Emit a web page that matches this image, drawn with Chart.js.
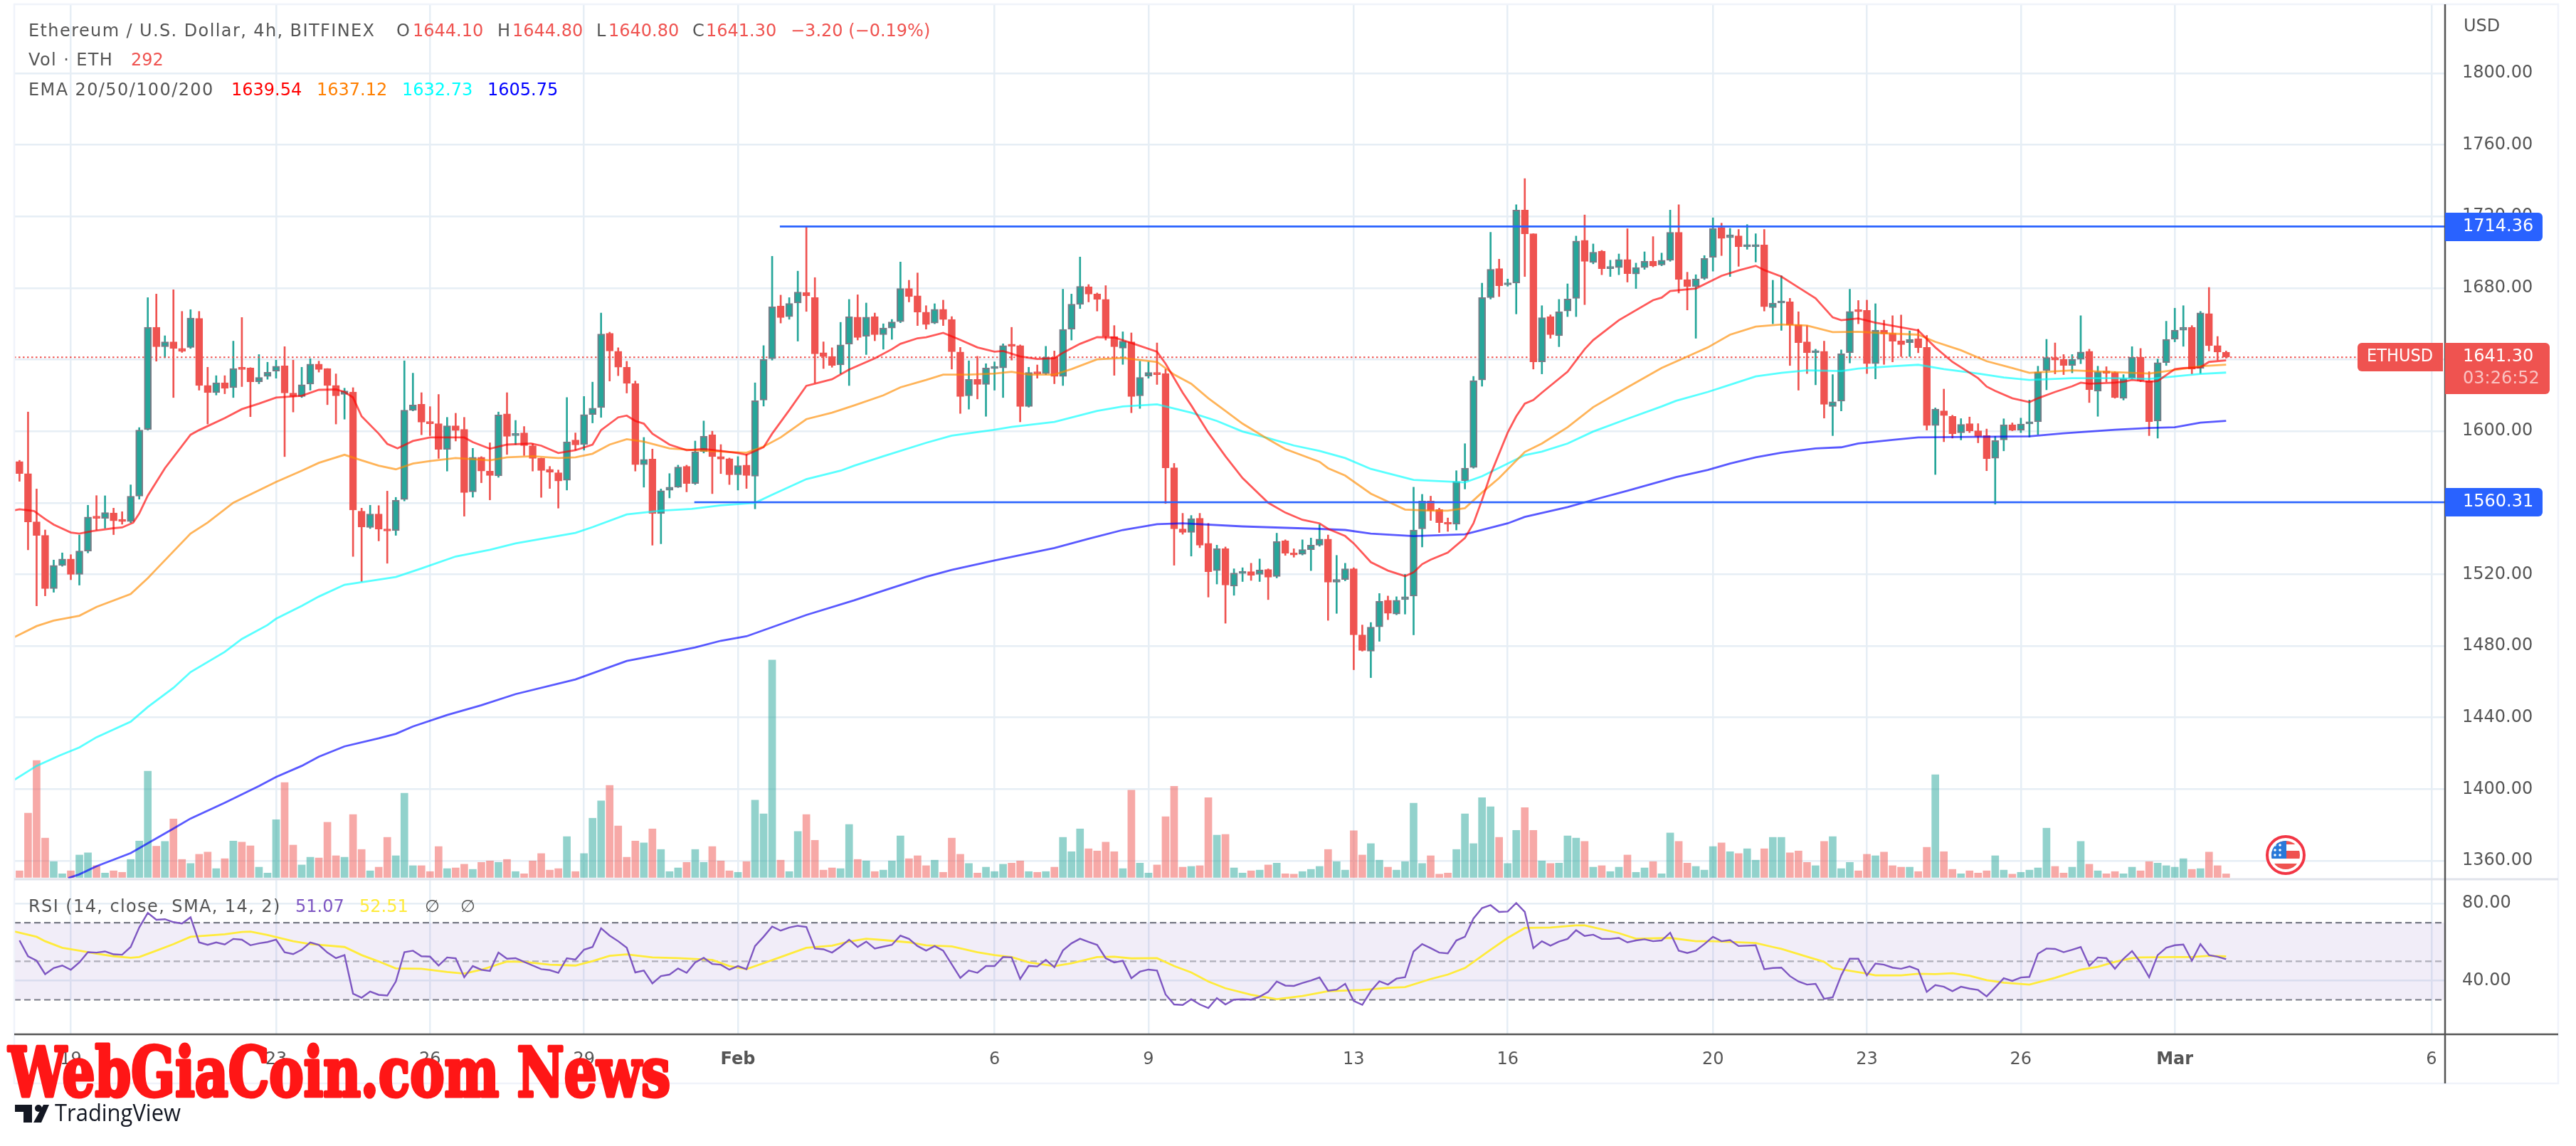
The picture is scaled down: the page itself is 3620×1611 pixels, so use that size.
<!DOCTYPE html>
<html>
<head>
<meta charset="utf-8">
<title>ETHUSD 4h</title>
<script src="https://cdn.jsdelivr.net/npm/chart.js@4/dist/chart.umd.min.js"></script>
<style>
  html, body { margin: 0; padding: 0; background: #fff; }
  canvas { display: block; }
</style>
</head>
<body>
<canvas id="chart" width="3620" height="1611"></canvas>
<script>
// candles, one per 4h bar
const opens = [
  1583,1576.3,1549.3,1541.8,1512,1525,1528.6,1520,1533,1552.5,
  1551.3,1554.3,1550.3,1549.5,1563.7,1601,1658,1647.2,1649.9,1646.2,
  1646.8,1663,1625.5,1621.5,1627,1624.3,1635.3,1635.3,1627.6,1630.6,
  1633.6,1636.5,1621.3,1619.4,1626.3,1637.5,1635,1625.5,1620.5,1621.9,
  1555.3,1546.2,1553.7,1545.4,1544.4,1561.8,1611.7,1615,1604.6,1604.2,
  1589.8,1603,1601,1566.1,1585.4,1577.7,1575,1609.7,1597.5,1599,
  1591.9,1584.8,1578.7,1576.8,1572.6,1595,1592.5,1609.3,1613.2,1654.7,
  1644.6,1635.7,1626.5,1581.3,1584.4,1554,1567,1568.7,1580.3,1570.8,
  1588.6,1598,1585.8,1584.6,1575.6,1581,1574.8,1617.4,1640.5,1670,
  1664,1671.6,1677.5,1674.6,1643.8,1641.7,1637,1648.7,1663.7,1653,
  1664,1653.9,1657.6,1661.2,1679.7,1675.6,1666.5,1660.4,1668.1,1662.4,
  1644.2,1619.8,1628.9,1626.1,1635,1635.3,1648.2,1647.8,1613.8,1633.2,
  1632.2,1641.3,1630.6,1657,1670.8,1680.7,1676.6,1673.6,1652.9,1646.4,
  1649.9,1619.8,1630.8,1632.8,1632.2,1579.5,1545.4,1543.4,1551.3,1537.3,
  1522.1,1534.3,1513.4,1520.5,1521.5,1520,1522.7,1518.8,1538.7,1531.6,
  1531.2,1533.8,1536.3,1539.7,1515.6,1517.1,1523.1,1486.2,1477.1,1490.7,
  1505.5,1497.8,1505.9,1507.9,1545.4,1561,1556.2,1548.9,1548,1572.4,
  1579.7,1628.6,1674.6,1690.8,1681.7,1682.7,1723.5,1710.3,1638.7,1664,
  1653.3,1667.1,1674.2,1706.6,1694.3,1700.6,1690.8,1691.4,1695.9,1687.8,
  1691.4,1694.9,1692.9,1695.5,1711.1,1684.7,1680.9,1685.3,1697.1,1713.7,
  1708.1,1709.1,1703,1703,1704,1669,1671.6,1672.2,1659.4,1649.9,
  1643.8,1644.6,1613.8,1616.8,1643.8,1667.5,1667.5,1637.7,1656.4,1654.7,
  1650.5,1649.5,1651.7,1646.8,1603.2,1611.3,1608.3,1599.1,1604.2,1600.2,
  1597.5,1584.9,1595.1,1603.6,1600.6,1604.1,1605.2,1634,1641.1,1640.1,
  1636.7,1640.1,1644.6,1622.3,1633.6,1632.8,1618.4,1629.6,1641.3,1628.2,
  1605.6,1638.3,1651.3,1656.4,1658,1635.1,1665.7,1647.8,1644.1
];
const closes = [
  1576.3,1549.3,1541.8,1512,1525,1528.6,1520,1533,1552,1551.3,
  1554.5,1549.9,1549.5,1563.7,1600.6,1658,1647.2,1649.9,1646.2,1644.6,
  1663.2,1625.5,1621.5,1627,1623.9,1635,1634.5,1627.6,1630,1632.9,
  1636.3,1621.3,1619.4,1625.9,1637.5,1634.5,1625.5,1619.8,1622.5,1556,
  1546.4,1553.7,1545.2,1544.2,1561.4,1611.7,1614.6,1605,1604.2,1589.8,
  1603,1600.4,1565.7,1585.4,1577.7,1575.2,1609.1,1597.1,1598.5,1591.9,
  1584.8,1578,1577,1572.2,1594.1,1592.3,1609.3,1612.8,1654.3,1644.8,
  1635.7,1626.7,1581.3,1584.2,1554,1566.7,1568.7,1579.9,1570.8,1588.4,
  1597.1,1585.8,1584.4,1575.6,1580.7,1575.2,1617,1640.1,1669.5,1663.5,
  1671.4,1677.7,1675.6,1643.2,1641.7,1636.7,1648.2,1663.9,1652.3,1663.7,
  1653.9,1657.6,1661,1679.7,1675.2,1666.5,1659.6,1668.1,1662.4,1644.4,
  1619.4,1628.9,1626.1,1635.3,1635.6,1647.8,1647.4,1613.8,1632.8,1632,
  1641.3,1630.6,1656.8,1671,1680.9,1676.6,1673.6,1652.9,1647.2,1650.3,
  1619.4,1630,1632.8,1631.6,1579.5,1545.4,1543.4,1551.1,1536.3,1521.5,
  1534.3,1514,1520.7,1521.5,1519.5,1522.5,1518.4,1538.3,1531.8,1530.8,
  1533.8,1536.3,1539.7,1515.6,1517.2,1523.1,1486.2,1477.5,1490.5,1504.9,
  1498.2,1505.5,1507.5,1544.8,1561,1555.6,1548.9,1548,1571.8,1579.3,
  1628.2,1674.6,1690.4,1681.3,1682.3,1723.5,1710.3,1638.7,1663.4,1653.9,
  1666.7,1673.8,1706.2,1694.9,1700,1690.8,1691.6,1695.9,1688,1691.4,
  1694.9,1692.4,1695.5,1711.1,1684.7,1680.9,1685.1,1696.5,1713.3,1707.7,
  1709.7,1703,1703.3,1703.8,1669.5,1671.6,1672.2,1659.4,1649.5,1643.8,
  1644.6,1615,1616.4,1643.2,1666.9,1666.7,1637.7,1656.4,1654.3,1650.3,
  1648.4,1651.3,1646.6,1603.2,1612.3,1608.7,1598.6,1603.8,1600.2,1597.1,
  1584.6,1594.7,1603.6,1600.6,1604,1605.2,1633,1641.1,1639.7,1636.7,
  1640.1,1644.2,1623.1,1633.2,1632.4,1618.8,1629.4,1641.3,1628.2,1605.2,
  1638.3,1651.3,1656.4,1658,1634.7,1666.1,1647.8,1644.2,1641.3
];
const highs = [
  1583.7,1610.7,1567.7,1544.8,1528,1532,1531,1542,1558.6,1564,
  1563.9,1557,1555,1570,1602,1674.6,1676.6,1653.3,1679,1666.9,
  1667.9,1666.9,1635.7,1631,1631,1650.3,1663.5,1635.5,1642.8,1638.5,
  1639.7,1647.2,1639.7,1635.7,1640.5,1639.1,1635,1632,1624,1624.3,
  1557,1558.6,1558.4,1566.5,1563,1639.3,1632.4,1621.5,1613.7,1620.5,
  1607.7,1610,1607.7,1590.4,1585.8,1593.5,1610.7,1621.5,1606,1602.6,
  1593,1585,1580.3,1578.3,1618.8,1599,1619.4,1627.4,1666,1655.3,
  1646.6,1639,1628,1596.5,1590,1567.7,1576.3,1581,1581,1594.5,
  1605.7,1600,1592.5,1585,1585.8,1587,1627,1647.8,1697.7,1676,
  1674.6,1689.4,1714.2,1685.8,1649.9,1646.6,1660.8,1673.6,1676.2,1671.6,
  1666,1660,1662.4,1694.5,1684.3,1688.4,1670.1,1671.2,1673.2,1664,
  1646.8,1639.3,1641.8,1637.7,1638.7,1648.8,1658,1648.2,1635.7,1637,
  1647.4,1644.8,1679.3,1676.6,1697.3,1681.9,1677.2,1681.3,1659,1655.5,
  1654.9,1639.1,1638.7,1649.3,1634.7,1582,1554.1,1552.9,1554.1,1548.5,
  1536.3,1535.3,1523.1,1523.7,1526.2,1528.6,1523.1,1543,1539.3,1534.3,
  1539.3,1540.3,1547.8,1542,1530.6,1526.2,1523.7,1491.7,1493.1,1509.3,
  1507.9,1507.5,1520,1568.7,1564.7,1563.7,1557,1551.5,1577.9,1593,
  1630.6,1682.7,1711.1,1696.1,1685,1726.5,1741.1,1710.3,1670.1,1665,
  1673.6,1682.3,1709,1720.8,1704.6,1701,1695.5,1699,1713.1,1693.9,
  1700.2,1708.7,1699.5,1723.5,1726.5,1688.8,1687.4,1698.1,1719.2,1716.2,
  1713.3,1712.7,1715.4,1710.3,1712.7,1684.3,1686.8,1674.2,1666.7,1659,
  1645.8,1650.3,1631.6,1645.4,1679.3,1673,1673.2,1671.2,1662,1664.5,
  1664.9,1656,1657,1653.5,1613,1623.5,1608.9,1607,1607.9,1604.2,
  1601.2,1597.1,1606.9,1604.6,1607.3,1617.4,1636.3,1651.3,1649.3,1642.8,
  1642.8,1664.5,1645.8,1636.3,1636,1633.2,1631.6,1647.2,1646.2,1633.2,
  1640.3,1661.4,1668.7,1670.1,1659,1666.9,1680.3,1652.9,1644.8
];
const lows = [
  1572,1533.7,1502.4,1508,1510,1524.5,1517,1514,1532,1544.8,
  1545.8,1542.2,1548,1548.9,1562,1600.6,1639.1,1641,1618.8,1644,
  1646.2,1622.9,1604,1620.2,1620.9,1618.8,1624.9,1608.1,1626.5,1629,
  1629.6,1585.8,1610.7,1618.8,1622.9,1633,1614.8,1604,1606.7,1530,
  1516,1545.6,1538.7,1526.2,1541.8,1561,1611.3,1598,1597.5,1584.8,
  1577.7,1594.5,1552.5,1563.1,1571.2,1561.6,1574.2,1587,1592.5,1586.4,
  1577.7,1563,1568,1557,1567.1,1589.4,1589.4,1604.6,1607.7,1628,
  1631,1621.3,1577.7,1568.7,1536.3,1537.1,1562.7,1568.5,1566.1,1570.2,
  1587.8,1565.1,1576.3,1570.2,1567.1,1568,1556.6,1614,1639.7,1660.4,
  1662.5,1650.3,1666.9,1627,1635,1635.7,1632,1625.5,1650.9,1642.8,
  1650.5,1645.8,1651.3,1660.6,1672.2,1659,1657,1660,1659,1634.7,
  1609.9,1612.3,1618,1608.3,1622.9,1618.8,1639.7,1605.2,1613.4,1629.6,
  1631.6,1626.5,1625.5,1650.9,1668.5,1672.2,1667.1,1650.9,1631.2,1637.3,
  1610.3,1612.7,1629.6,1626.1,1559.6,1525.1,1542.4,1530.2,1534.9,1507.3,
  1514.6,1492.7,1508.3,1516,1516.6,1516,1505.9,1518,1530.6,1529.6,
  1530.8,1522.1,1535.7,1494.3,1498.2,1516.4,1466.7,1477.1,1462.3,1482.6,
  1494.7,1497.4,1497.8,1486.2,1535.3,1550.1,1543.4,1544,1544.8,1567.7,
  1579.3,1625.1,1673.8,1675.2,1681,1665.5,1686.4,1634.7,1632,1651.9,
  1647.2,1664,1664,1670.7,1693.5,1687.4,1686.4,1687.4,1683.3,1679.7,
  1690.4,1691.8,1692.4,1694.9,1677.2,1667.7,1651.9,1684.7,1689.4,1698.1,
  1686.4,1692.1,1701.6,1694.5,1667.1,1660,1656.3,1636.7,1622.9,1632.2,
  1625.9,1607.3,1597.5,1611.3,1638.1,1660,1632.2,1629.2,1637.3,1638.7,
  1641.7,1641.7,1643.8,1600.6,1575.8,1594.1,1596.1,1595.1,1599.2,1593.5,
  1577.9,1559.2,1589,1600.2,1599.2,1596.7,1598.2,1623.1,1632,1631.6,
  1632.6,1637.7,1616,1608.3,1627.6,1618.4,1617.4,1629.2,1627.6,1597.5,
  1596.1,1636.7,1649.9,1647.4,1632,1632.2,1644.8,1639.7,1640.8
];
const volumes = [
  540,5250,9540,3210,1290,300,540,1830,2010,960,
  360,540,420,1470,2970,8670,2550,2940,4770,1470,
  1140,1890,2070,720,1530,2970,2880,2580,840,360,
  4710,7740,2640,1020,1650,1590,4500,1770,1650,5130,
  2280,540,840,3270,1770,6870,960,960,480,2520,
  720,780,1080,660,1230,1350,1230,1470,480,300,
  1350,1950,600,720,3330,480,1950,4830,6240,7500,
  4200,1650,2970,2820,3960,2280,480,780,1230,2280,
  1230,2520,1350,540,420,1290,6300,5190,17730,1410,
  480,3750,5130,3030,600,780,720,4320,1470,1350,
  480,600,1350,3390,1530,1770,960,1410,420,3210,
  1890,1140,360,840,480,1080,1170,1350,480,420,
  480,840,3270,2100,3960,2340,2160,2880,2100,720,
  7110,1170,360,1020,4950,7440,840,900,960,6510,
  3450,3510,780,360,540,600,1020,1170,300,270,
  480,660,900,2280,1290,600,3810,1830,2760,1410,
  840,600,1290,6060,1140,1770,270,360,2280,5190,
  2760,6510,5760,3270,1140,3840,5700,3840,1350,1140,
  1170,3390,3210,2940,840,960,480,840,1830,420,
  780,1290,300,3630,2940,1170,900,600,2520,2820,
  2100,1950,2340,1410,2340,3270,3270,2010,2160,1230,
  960,2940,3330,720,1230,540,1890,1770,2070,960,
  840,840,480,2460,8370,2100,660,300,540,360,
  540,1770,600,270,420,600,780,4020,900,360,
  840,2940,1080,540,300,480,300,840,540,1290,
  1170,960,840,1530,660,720,2070,960,292
];
const rsiValues = [
  60.8,52.6,50.3,43.3,46.5,47.8,45.6,49.4,54.7,54.5,
  55.1,53.6,53.4,57.4,67.5,75.1,71.5,71.8,70.3,69.6,
  72.8,59.8,58.5,59.8,58.7,61.6,61.2,58.3,59.3,60,
  61.2,54.7,53.7,56,59.8,58.5,54.5,51.6,53.2,33.2,
  31.1,34.3,32.6,32.2,39.5,54.7,55.5,52.6,52.4,47.8,
  52,51.5,41.7,47.5,45.6,45,54.5,51.3,51.6,49.7,
  47.8,45.9,45.4,44,51.6,50.9,56,57.4,67.1,63.3,
  60.4,57,44.2,45.2,38.5,42.3,43.1,46.3,44,49.4,
  51.8,48.6,48.2,45.6,47.5,45.9,57.9,62.7,68,65.9,
  67.5,68.4,67.8,56.6,56.2,54.5,57.6,61.2,57.4,60.2,
  56.6,57.6,58.5,63.3,61.6,57.9,55.5,57.9,55.5,48.4,
  41.4,45.2,44,47.5,47.5,52.2,52,40.8,47.6,47.3,
  50.7,46.9,55.6,59.3,61.7,60,58.5,51.6,49.4,50.3,
  41.2,44.6,45.7,45.2,32.8,27.6,27.3,30.3,27.6,25.7,
  30.9,27.6,30.1,30.3,30.1,31.6,34.1,39.5,37.4,37.2,
  38.7,40,41.6,34.7,35.3,38.3,29.4,27.4,34.5,39.6,
  37.9,41,41.7,55.1,58.9,56.8,54.5,54.1,60.8,62.7,
  72.2,77.6,79.1,75.6,75.8,80.2,75.6,56.8,60.4,58.1,
  60.2,61.6,66.1,63.1,63.8,61.6,61.6,62.1,59.8,60.8,
  61.4,60.4,60.8,64.8,55.5,54.3,55.5,58.9,62.7,60.4,
  61,57.9,58.1,58.3,45.9,46.5,46.7,42.3,39.5,37.9,
  38.3,30.5,31.3,42.7,51.3,51.3,42.7,48.8,48.2,46.7,
  46.1,47.3,45.6,34.1,37.6,36.8,34.5,36.8,35.8,35.1,
  31.8,36.4,41.2,39.8,41.6,41.9,53.9,56.6,56.4,54.7,
  56,57.4,47.6,52,51.6,46.1,51.3,55.3,49.4,41.7,
  53.2,57,58.3,58.7,50.3,58.9,53.2,52.4,51.07
];

// the smoother lines are read at their bends: bar number, then value
const ema20Bars = [-1,0,1.7,3,4,6,7,8.5,11,12,13.3,14,15,17,20,21,24,26,28,30,33,35,37,38,39,40,42,43,44.2,46,48,50,52,53,55,57,59.8,61,63,65,67,68,70,71,72,73,74,76,78,80,82,84,85,87,88,90,92,95,97,100,102,103,105,106,108,110,112,114,115,117,119,121,122,124,126,128,130,133,134,136,137,139,141,143,146,148,150,152,153,155,156,158,160,162,163,164,165,167,169,170,171,172,174,175,176,177,178,181,183,184,187,191,192,193,196,199,201,203,204,206,208,210,212,213,215,217,220,222,224,226,229,230,231,233,235,236,238,240,241,242,245,246,247,249,250,252,253,255,256,258];
const ema20 = [1555.4,1556.4,1555.4,1550.9,1547.8,1543.4,1542.8,1544.2,1545.8,1546.2,1548.9,1554,1564,1579.3,1598,1600.6,1607.3,1612.3,1615.4,1618.8,1619.8,1623.1,1623.3,1621.9,1618.8,1608.3,1598.6,1592.9,1590.4,1594.5,1596.5,1596.5,1596.5,1593.9,1590.2,1592.5,1593.1,1591.9,1587.8,1589.4,1592.5,1600.6,1607.7,1608.7,1605.7,1604.2,1598.6,1592.5,1589.4,1590,1589,1587.8,1586.8,1591,1598.6,1611.7,1625.3,1629,1634.4,1640.7,1645.8,1648.8,1651.9,1652.5,1654.9,1651,1646.8,1644.4,1644.8,1641.7,1640.3,1640.7,1643.8,1648.8,1652.5,1652.3,1649.3,1644.4,1637.7,1621.5,1614.4,1599.2,1586,1573.8,1560,1554.5,1550.5,1548.5,1545.4,1541.4,1537.3,1526.8,1522.1,1519,1521.1,1525.7,1528.2,1532.2,1540.3,1548.5,1561.6,1575.8,1599.2,1608.3,1615.4,1617.4,1621.5,1633.2,1645.8,1650.9,1662,1673.2,1674.6,1678.3,1679.7,1686.8,1689.8,1692.4,1690,1686.4,1680.3,1674.2,1663.6,1662,1663,1660.6,1658,1656.3,1646.8,1638.7,1629.6,1624.9,1622.5,1618.4,1616.2,1618.4,1621.9,1625.1,1627.1,1626.5,1627.1,1627.6,1628.6,1627.6,1628,1634.7,1635.3,1635.7,1638.7,1639.54];
const ema50Bars = [-1,2,4,7,9,13,15,16,20,22,25,30,33,35,38,40,42,44,46,48,51,55,57,60,63,65,67,69,71,73,76,79,83,85,87,89,92,95,97.6,101,103,106,108,111,114,116,118,121,123,126,129,131,133,135,137,139,141,143,146,148,152,153,155,158,162,165,167,169,171,173,176,178,181,184,188,192,195,197.4,200,203,206,209,212,215,219,222,224,227,230,233,235,240,245,249,252,255,258];
const ema50 = [1484,1491.1,1494.2,1496.9,1501.8,1509,1517.9,1522.9,1542.8,1548.9,1560,1571.6,1577.9,1582.3,1586.8,1583.7,1580.7,1578.7,1581.9,1583.3,1585,1583.7,1585.4,1586,1585,1585.4,1587.4,1592.5,1595.5,1594.1,1590.4,1589.4,1588.4,1588,1591.4,1596.5,1606.7,1610.3,1614.4,1620,1624.5,1628.6,1631.6,1631.6,1632.2,1633.2,1631.6,1631.6,1634.7,1640.1,1640.9,1639.7,1638.7,1631.6,1626.5,1618.4,1611.3,1604.2,1595.5,1590,1582.9,1579.3,1575.2,1565.1,1556.2,1555.6,1555.6,1557,1565.7,1573.8,1588.4,1593.1,1602.2,1613.4,1624.5,1635.3,1641.7,1646.8,1653.9,1658.4,1659.6,1659,1655.3,1655.5,1654.5,1653.9,1649.9,1645.2,1639.1,1635.3,1632.6,1634,1633,1632.2,1634.2,1636.3,1637.12];
const ema100Bars = [-1,2,4.7,7,9,13,15,18,20,24,26,29,30,33,35,38,44,46.8,51,55,58,65,67,71,75,78.6,82,86,88,92,96,97.6,101,106,109,114,116,121,126,129,133,137,140,143,146,149,152,155,158,163,169,171,176,178,181,184,188,192,193.7,197.4,200,203,206,209,213,215,219,222,225,229,232,235,240,245,249,252,255,258];
const ema100 = [1404,1413,1418.8,1423.3,1429,1437.7,1445.9,1456.6,1465.4,1476.7,1483.9,1491.7,1495.2,1502.4,1507.6,1514.2,1518.5,1523,1530,1533.7,1537.3,1543.2,1546.4,1553.5,1555.6,1556.6,1558.6,1560,1564.5,1573.2,1577.9,1580.7,1586,1593.5,1597.5,1600.8,1602.4,1605.2,1611.3,1613.8,1615,1610.3,1605.7,1599.8,1596.1,1592,1589,1585,1578.9,1572.8,1571.4,1574.8,1586.6,1588.6,1593.1,1599.8,1606.9,1613.8,1617,1621.9,1625.9,1630.6,1632.6,1634,1633.6,1635,1636.3,1637.1,1634.7,1632.2,1630,1628.6,1629.6,1629.6,1629.2,1630.6,1632,1632.73];
const ema200Bars = [5.7,7,9,13,18,20,24,28,30,33,35,38,42,44,46,50,54,58,65,71,75,79,82,85,92,97.6,101,106,109,114,121,125,129,133,136,143,152,155,158,163,169,174,176,181,184,188,193.7,197.4,200,203,206,210,213,215,219,222,235,239,245,249,252,255,258];
const ema200 = [1350.3,1352.4,1356.9,1364.3,1378,1383.6,1392.4,1401.7,1406.8,1413,1418.1,1423.9,1428.4,1430.9,1435,1441.4,1446.9,1453.1,1461.3,1471.6,1475.3,1479.2,1482.9,1485.4,1497.3,1505.5,1510.9,1518.6,1522.5,1527.8,1534.7,1539.9,1544.8,1548,1548.5,1546.8,1545.4,1544.8,1542.8,1541.4,1542.4,1548.5,1552.1,1557.6,1561.6,1566.7,1574.4,1578.3,1581.9,1585.4,1588,1590.4,1591,1593.1,1595.1,1596.5,1597.1,1598.8,1600.8,1601.8,1602.2,1604.8,1605.75];
const rsiSmaBars = [-1,2,3,5,7,9,11,13,14,16,18,20,24,26,27,29,32,34,38,40,42,44,47,50,52,54,57,59,62,65,67,69,71,74,77,81,83,85,87,89,92,95,97,99,101,104,106,109,112,114,116,118,121,123,126,128,130,133,135,137,139,141,144,147,150,153,157,160,162,165,167,169,172,174,176,179,182,183,187,189,193,196,198,203,205,206,209,211,212,216,217,220,222,224,226,228,230,232,235,238,241,243,245,247,248,252,254,256,258];
const rsiSma = [65.9,62.7,60.4,57,55.5,53.9,52.6,51.8,52.2,55.5,58.9,62.7,64,65.2,65.4,63.6,60.4,58.9,57.4,53.2,49.9,46.3,46.1,44.4,43.6,45.6,49.9,49.7,48.2,47.8,50.1,52.8,53.6,52,51.6,50.7,47.5,45.9,49,52.2,57,58.1,60.2,61.7,61,59.8,58.3,57.7,54.7,53.2,52.2,49.4,47.5,49,52.2,52.4,51.5,51.6,47.5,44.2,39.5,36,32.6,30.3,32,34.5,35.1,36.2,36.6,40.8,43.1,46.5,56,62.1,67.3,67.5,68.6,68.6,64.6,61.7,62.1,60.4,60.4,59.5,57.4,56.4,52.4,49.7,46.5,43.6,42.7,42.7,43.5,43.3,43.8,42.5,40.2,38.9,37.9,41.4,45.6,47.1,49.7,51.6,52,52.2,52.2,52.8,52.51];

// drawn levels: value and the bar where the line starts
const levelValues = [1714.36, 1560.31];
const levelStarts = [88.9, 78.9];
const lastPrice = 1641.3;

const priceTicks = [1360,1400,1440,1480,1520,1560,1600,1640,1680,1720,1760,1800];
const rsiTicks = [40, 80];
const rsiBands = [70, 50, 30];
const dateBars = [6,30,48,66,84,114,132,156,174,198,216,234,252,282];
const dateLabels = ["19","23","26","29","Feb","6","9","13","16","20","23","26","Mar","6"];

const GREEN = "#26a69a", RED = "#ef5350", GREY = "#787b86", TEXT = "#555555";
const FONT = '"DejaVu Sans"';
const xMin = -0.6156, xMax = 283.6;

const isUp = i => closes[i] >= opens[i];
const xy = (bars, vals) => bars.map((b, i) => ({ x: b, y: vals[i] }));
const hLine = (y, a, b) => [{ x: a, y: y }, { x: b, y: y }];

function lineSet(data, color, width, order, extra) {
  return Object.assign({
    type: "line", data: data, borderColor: color, borderWidth: width,
    pointRadius: 0, tension: 0, fill: false, order: order, yAxisID: "y"
  }, extra || {});
}

const datasets = [
  {
    type: "bar", yAxisID: "vol", order: 60, grouped: false, barThickness: 10,
    data: volumes.map((v, i) => ({ x: i, y: v })),
    backgroundColor: volumes.map((v, i) => isUp(i) ? "rgba(38,166,154,0.5)" : "rgba(239,83,80,0.5)")
  },
  {
    type: "bar", yAxisID: "y", order: 40, grouped: false, barThickness: 2,
    data: highs.map((h, i) => ({ x: i, y: [lows[i], h] })),
    backgroundColor: highs.map((h, i) => isUp(i) ? GREEN : RED)
  },
  {
    type: "bar", yAxisID: "y", order: 30, grouped: false, barThickness: 10, minBarLength: 3,
    borderWidth: 2, borderSkipped: false,
    data: opens.map((o, i) => ({ x: i, y: [o, closes[i]] })),
    backgroundColor: opens.map((o, i) => isUp(i) ? GREEN : RED),
    borderColor: opens.map((o, i) => isUp(i) ? GREY : RED)
  },
  lineSet(hLine(lastPrice, xMin, 273.3), RED, 2, 35, { borderDash: [2.5, 3.5] }),
  lineSet(xy(ema200Bars, ema200), "rgba(0,0,255,0.65)", 2.8, 24),
  lineSet(xy(ema100Bars, ema100), "rgba(0,255,255,0.65)", 2.8, 23),
  lineSet(xy(ema50Bars, ema50), "rgba(255,140,0,0.65)", 2.8, 22),
  lineSet(xy(ema20Bars, ema20), "rgba(255,0,0,0.65)", 2.8, 21),
  lineSet(hLine(levelValues[0], levelStarts[0], xMax), "#2962ff", 2.6, 10),
  lineSet(hLine(levelValues[1], levelStarts[1], xMax), "#2962ff", 2.6, 10),
  // rsi pane: shaded band between the outer levels
  lineSet(hLine(rsiBands[0], xMin, xMax), GREY, 2.2, 58, {
    yAxisID: "rsi", borderDash: [9, 5], fill: { target: { value: rsiBands[2] } },
    backgroundColor: "rgba(126,87,194,0.11)"
  }),
  lineSet(hLine(rsiBands[1], xMin, xMax), "rgba(120,123,134,0.55)", 2.2, 57, { yAxisID: "rsi", borderDash: [9, 5] }),
  lineSet(hLine(rsiBands[2], xMin, xMax), GREY, 2.2, 57, { yAxisID: "rsi", borderDash: [9, 5] }),
  lineSet(xy(rsiSmaBars, rsiSma), "#ffeb3b", 2.8, 16, { yAxisID: "rsi" }),
  lineSet(rsiValues.map((v, i) => ({ x: i, y: v })), "#7e57c2", 2.4, 15, { yAxisID: "rsi" })
];

// texts around the plot: header, tags, watermark
function put(ctx, str, x, y, color, font, maxW) {
  ctx.font = font || "24px " + FONT;
  ctx.fillStyle = color || TEXT;
  ctx.textAlign = "left";
  ctx.textBaseline = "middle";
  if (maxW) ctx.fillText(str, x, y, maxW); else ctx.fillText(str, x, y);
}

function tag(ctx, x, y, w, h, radii, color) {
  ctx.fillStyle = color;
  ctx.beginPath();
  ctx.roundRect(x, y, w, h, radii);
  ctx.fill();
}

function flag(ctx, cx, cy) {
  ctx.save();
  ctx.beginPath(); ctx.arc(cx, cy, 26, 0, Math.PI * 2);
  ctx.fillStyle = "#fff"; ctx.fill();
  ctx.lineWidth = 4; ctx.strokeStyle = "#f23645"; ctx.stroke();
  ctx.beginPath(); ctx.arc(cx, cy, 20, 0, Math.PI * 2); ctx.clip();
  ctx.fillStyle = RED;
  ctx.fillRect(cx - 20, cy - 20, 40, 5);
  ctx.fillRect(cx - 20, cy - 6, 40, 11);
  ctx.fillRect(cx - 20, cy + 12, 40, 9);
  ctx.fillStyle = "#2979d9";
  ctx.fillRect(cx - 20, cy - 20, 21, 25);
  ctx.fillStyle = "#fff";
  [[-15,-14],[-8,-14],[-15,-7],[-8,-7],[-15,0],[-8,0]].forEach(p => {
    ctx.beginPath(); ctx.arc(cx + p[0], cy + p[1], 1.8, 0, Math.PI * 2); ctx.fill();
  });
  ctx.restore();
}

function tvLogo(ctx) {
  ctx.fillStyle = "#131722";
  ctx.fillRect(21, 1553, 24, 10);
  ctx.fillRect(33, 1553, 12, 25);
  ctx.beginPath(); ctx.arc(54, 1558, 5, 0, Math.PI * 2); ctx.fill();
  ctx.beginPath();
  ctx.moveTo(61, 1553); ctx.lineTo(69, 1553); ctx.lineTo(58, 1578); ctx.lineTo(47, 1578);
  ctx.closePath(); ctx.fill();
}

const overlay = {
  id: "overlay",
  afterDraw(chart) {
    const ctx = chart.ctx;
    ctx.save();
    // frame and pane separators
    ctx.strokeStyle = "#f0f3fa"; ctx.lineWidth = 2.5;
    ctx.strokeRect(20, 6, 3575, 1517);
    ctx.strokeStyle = "#e0e3eb"; ctx.lineWidth = 3;
    ctx.beginPath(); ctx.moveTo(20, 1236); ctx.lineTo(3595, 1236); ctx.stroke();
    ctx.strokeStyle = TEXT; ctx.lineWidth = 2.5;
    ctx.beginPath();
    ctx.moveTo(3436, 6); ctx.lineTo(3436, 1523);
    ctx.moveTo(20, 1454); ctx.lineTo(3595, 1454);
    ctx.stroke();

    // header, the legend words run a little wider than the plain font
    ctx.letterSpacing = "1.4px";
    put(ctx, "Ethereum / U.S. Dollar, 4h, BITFINEX", 40, 45);
    put(ctx, "Vol \u00b7 ETH", 40, 86);
    put(ctx, "EMA 20/50/100/200", 40, 128);
    put(ctx, "RSI (14, close, SMA, 14, 2)", 40, 1276);
    ctx.letterSpacing = "0px";
    put(ctx, "O", 557, 45); put(ctx, "1644.10", 580, 45, RED);
    put(ctx, "H", 699, 45); put(ctx, "1644.80", 720, 45, RED);
    put(ctx, "L", 838, 45); put(ctx, "1640.80", 855, 45, RED);
    put(ctx, "C", 973, 45); put(ctx, "1641.30", 992, 45, RED);
    put(ctx, "\u22123.20 (\u22120.19%)", 1111, 45, RED);
    put(ctx, "292", 184, 86, RED);
    put(ctx, "1639.54", 325, 128, "#ff0000");
    put(ctx, "1637.12", 445, 128, "#ff7f00");
    put(ctx, "1632.73", 565, 128, "#00ffff");
    put(ctx, "1605.75", 685, 128, "#0000ff");
    put(ctx, "USD", 3462, 38);

    // rsi legend values
    put(ctx, "51.07", 415, 1276, "#7e57c2");
    put(ctx, "52.51", 505, 1276, "#ffeb3b");
    put(ctx, "\u2205", 597, 1276); put(ctx, "\u2205", 647, 1276);

    // axis tags
    tag(ctx, 3436, 299, 137, 40, [0, 6, 6, 0], "#2962ff");
    put(ctx, "1714.36", 3461, 319, "#fff");
    tag(ctx, 3436, 686, 137, 40, [0, 6, 6, 0], "#2962ff");
    put(ctx, "1560.31", 3461, 706, "#fff");
    tag(ctx, 3313, 482, 120, 40, [6, 0, 0, 6], RED);
    put(ctx, "ETHUSD", 3326, 502, "#fff", null, 93);
    tag(ctx, 3436, 482, 147, 72, [0, 6, 6, 0], RED);
    put(ctx, "1641.30", 3461, 502, "#fff");
    put(ctx, "03:26:52", 3461, 533, "rgba(255,255,255,0.65)");

    flag(ctx, 3212, 1202);

    // watermark
    ctx.font = 'bold 96px "DejaVu Serif"';
    ctx.textBaseline = "alphabetic";
    ctx.lineJoin = "round";
    ctx.strokeStyle = "#ff1616"; ctx.lineWidth = 5;
    ctx.strokeText("WebGiaCoin.com News", 12, 1541, 930);
    ctx.fillStyle = "#ff1616";
    ctx.fillText("WebGiaCoin.com News", 12, 1541, 930);

    tvLogo(ctx);
    put(ctx, "TradingView", 77, 1567, "#131722", '32px "Open Sans"', 177);
    ctx.restore();
  }
};

// the tick padding would otherwise push the plot area down
function fitRight(s) { s.width = 159; s.paddingTop = 0; s.paddingBottom = 0; }

new Chart(document.getElementById("chart"), {
  type: "bar",
  data: { datasets: datasets },
  plugins: [overlay],
  options: {
    responsive: false,
    animation: false,
    devicePixelRatio: 1,
    layout: { autoPadding: false, padding: { left: 20, right: 25, top: 6, bottom: 88 } },
    plugins: { legend: { display: false }, tooltip: { enabled: false } },
    scales: {
      x: {
        type: "linear", min: xMin, max: xMax, offset: false,
        grid: { offset: false, color: "#e6eef5", lineWidth: 2.5, drawTicks: false },
        border: { display: false },
        afterBuildTicks: s => { s.ticks = dateBars.map(v => ({ value: v })); },
        afterFit: s => { s.height = 69; s.paddingLeft = 0; s.paddingRight = 0; },
        ticks: {
          autoSkip: false, maxRotation: 0, padding: 21, color: TEXT,
          font: c => ({ family: "DejaVu Sans", size: 24, weight: c.tick && c.tick.value % 84 === 0 && c.tick.value > 0 ? "bold" : "normal" }),
          callback: v => dateLabels[dateBars.indexOf(v)]
        }
      },
      y: {
        position: "right", stack: "panes", stackWeight: 1230, weight: 1,
        min: 1349.67, max: 1838.5,
        grid: { color: "#e6eef5", lineWidth: 2.5, drawTicks: false },
        border: { display: false },
        afterBuildTicks: s => { s.ticks = priceTicks.map(v => ({ value: v })); },
        afterFit: fitRight,
        ticks: { padding: 24, color: TEXT, font: { family: "DejaVu Sans", size: 24 }, callback: v => v.toFixed(2) }
      },
      rsi: {
        position: "right", stack: "panes", stackWeight: 218, weight: 2,
        min: 12.1, max: 92.55,
        grid: { color: "#e6eef5", lineWidth: 2.5, drawTicks: false },
        border: { display: false },
        afterBuildTicks: s => { s.ticks = rsiTicks.map(v => ({ value: v })); },
        afterFit: fitRight,
        ticks: { padding: 24, color: TEXT, font: { family: "DejaVu Sans", size: 24 }, callback: v => v.toFixed(2) }
      },
      vol: { position: "right", display: false, min: -12789, max: 71195 }
    }
  }
});
</script>
</body>
</html>
